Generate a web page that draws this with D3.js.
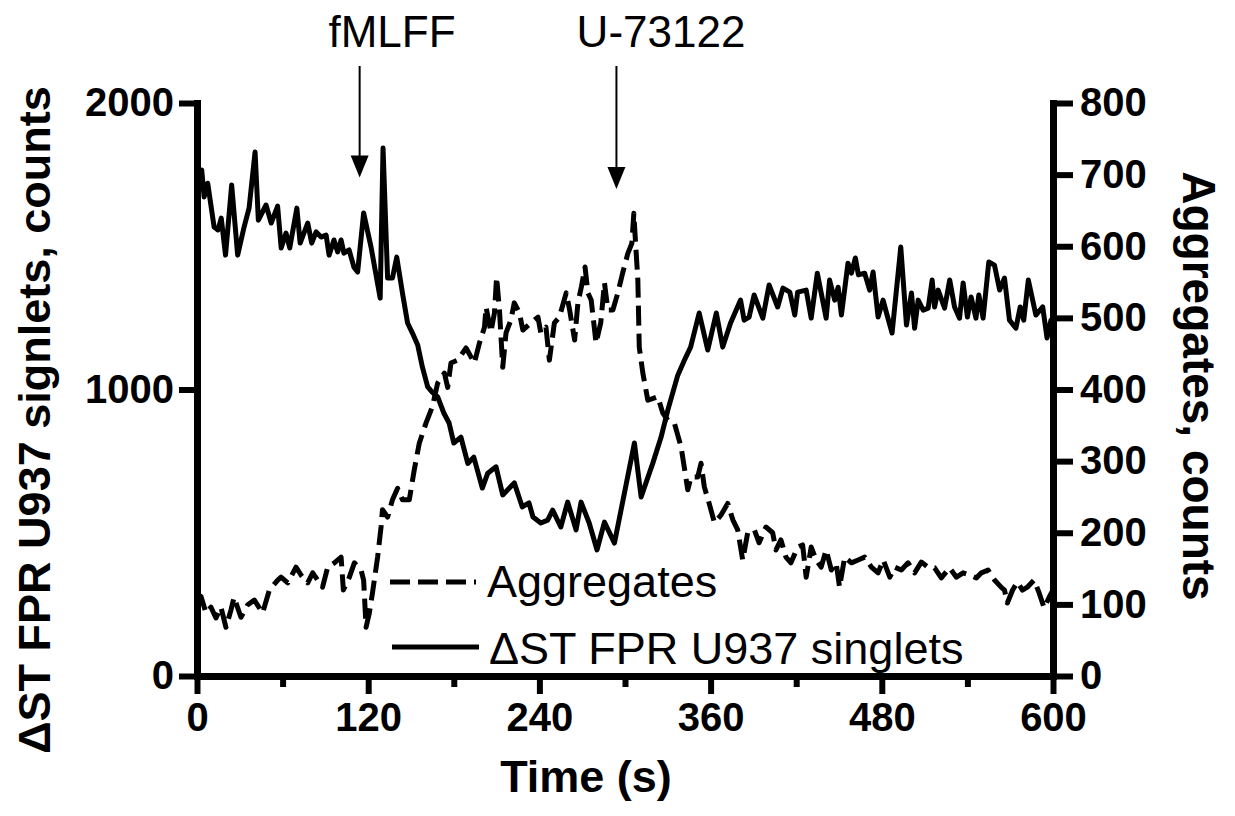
<!DOCTYPE html>
<html>
<head>
<meta charset="utf-8">
<script src="https://cdn.jsdelivr.net/npm/d3@7"></script>
<style>
  body { margin: 0; background: #fff; }
  svg { display: block; font-family: 'Liberation Sans', Arial, sans-serif; }
</style>
</head>
<body>
<svg id="chart" width="1235" height="816"></svg>
<script>
// singlets (left axis)
const singletTime = [0, 3.3, 5, 7.5, 12, 14.7, 17, 20, 24.3, 28.5, 33, 36.5, 40.7, 43, 48.4, 52, 56.5, 59, 62.4, 65,
  70, 72.3, 77.6, 80.4, 83.5, 87, 90.5, 92.6, 96, 98.6, 101, 103, 106.6, 110, 112.6, 116.8, 122, 128.4, 130.4, 133.6,
  137, 140, 144, 147.6, 151, 154.7, 158, 161.7, 165, 168.7, 173, 176.7, 180, 185, 189.8, 194, 200, 203.8, 209.6, 214.3,
  222.4, 228, 232.7, 235.5, 241, 245.8, 249.3, 255, 259.8, 265.7, 269.2, 274.9, 280.4, 285.6, 292.6, 306.6, 311.3, 319.5, 325.3, 330,
  337, 341.7, 346, 352, 358, 364, 368.5, 374, 381, 383.5, 387, 390.5, 396.6, 401, 407, 410.7, 415.5, 419,
  421, 427, 430.5, 434.8, 441, 443.4, 447, 449.4, 451.7, 456.3, 458.7, 461.5, 463.6, 468, 471.5, 473.9, 477.4, 480.9, 483.3, 487.2,
  493.3, 497.3, 500.8, 503, 505.5, 509, 512.5, 515.3, 517, 519.5, 524, 527.6, 531, 534.5, 537, 540, 542.6, 546, 548, 551,
  555, 559, 562.6, 566, 569.5, 574, 577, 579.5, 582.7, 588, 592.8, 595.8, 598.6, 600]
const singletCounts = [1750, 1766, 1672, 1720, 1567, 1557, 1598, 1469, 1714, 1469, 1567, 1633, 1829, 1591, 1644, 1581, 1640, 1494, 1546, 1494,
  1633, 1511, 1581, 1511, 1550, 1532, 1539, 1469, 1522, 1480, 1522, 1476, 1487, 1427, 1410, 1616, 1497, 1319, 1843, 1389,
  1389, 1462, 1337, 1232, 1197, 1155, 1078, 1009, 990, 974, 918, 883, 813, 834, 742, 764, 656, 708, 730, 632,
  674, 590, 604, 555, 534, 544, 579, 520, 607, 510, 607, 534, 440, 537, 464, 813, 625, 743, 834, 928,
  1050, 1103, 1148, 1267, 1138, 1267, 1148, 1232, 1312, 1242, 1253, 1330, 1249, 1365, 1288, 1354, 1340, 1260,
  1340, 1347, 1249, 1406, 1249, 1382, 1312, 1357, 1260, 1441, 1406, 1459, 1400, 1406, 1347, 1410, 1253, 1312, 1267, 1197,
  1497, 1225, 1337, 1214, 1312, 1277, 1284, 1382, 1288, 1347, 1284, 1382, 1288, 1249, 1372, 1253, 1323, 1249, 1330, 1249,
  1445, 1434, 1347, 1389, 1242, 1214, 1288, 1242, 1382, 1260, 1288, 1180, 1242, 1200]

// aggregates (right axis)
const aggTime = [0, 2.8, 6.3, 9.8, 13.3, 16.8, 20.3, 23.8, 26, 30.8, 35.4, 40.2, 46, 50.7, 56.6, 58.9, 63.6, 69.4, 72.9, 77.6,
  81.1, 88, 91.6, 96.3, 101, 102.6, 106.8, 110.3, 115, 116.8, 118.5, 120.8, 123, 126.6, 129, 130, 133.6, 137, 140.6, 144,
  148.8, 152.3, 155.8, 160.5, 165, 168.7, 173.4, 175.7, 178, 182.8, 188.6, 194.4, 198, 201.5, 202.6, 206, 208.5, 210, 212, 214.3,
  216.6, 220, 222.4, 226, 228.4, 234, 239, 241, 244.6, 247, 250.5, 254, 258.8, 261.2, 264.7, 267, 269.4, 272, 274, 276.3,
  279.7, 283, 285.6, 288, 291.5, 295, 298.4, 302, 304.8, 306.2, 307, 309, 310, 312.5, 316, 323, 326.5, 330, 334.6, 339.3,
  344, 346.3, 351, 353.3, 355.6, 359, 362.7, 367.4, 372, 375.6, 379, 382.5, 386, 390.7, 394, 398.8, 403.5, 405.8, 409.3, 412.8,
  416.3, 421, 424.5, 427, 430.5, 434, 437.5, 441, 444.6, 448, 450.4, 454, 458.7, 463.4, 468, 472.7, 477.4, 481, 485.6, 489,
  493.7, 498.4, 503, 507.7, 512.4, 517, 521.7, 527.5, 532.3, 537, 541.6, 546.3, 549.8, 554.5, 559, 563.6, 566, 568, 571.7, 575,
  578.6, 582, 586.7, 590.3, 593.8, 597.3, 600]
const aggCounts = [105, 111, 88, 96, 81, 96, 68, 92, 110, 82, 99, 106, 88, 120, 134, 138, 130, 152, 141, 130,
  144, 124, 152, 158, 166, 120, 138, 158, 148, 134, 68, 88, 116, 166, 208, 232, 222, 246, 262, 246,
  246, 288, 325, 353, 376, 409, 423, 403, 437, 441, 458, 437, 465, 487, 515, 480, 507, 557, 511, 431,
  479, 497, 521, 507, 483, 493, 501, 479, 487, 441, 493, 501, 535, 511, 469, 521, 543, 571, 535, 525,
  465, 493, 549, 511, 511, 535, 563, 590, 604, 646, 618, 553, 459, 423, 385, 390, 367, 357, 353, 320,
  260, 278, 278, 297, 264, 241, 214, 225, 241, 218, 204, 162, 200, 204, 186, 208, 200, 176, 190, 166,
  158, 180, 183, 138, 180, 162, 152, 176, 148, 158, 124, 166, 158, 162, 166, 152, 144, 162, 138, 152,
  148, 158, 144, 159, 152, 151, 137, 151, 138, 144, 141, 137, 144, 148, 134, 124, 120, 102, 120, 131,
  120, 124, 134, 116, 95, 110, 120]

const xMajor = [0, 120, 240, 360, 480, 600]
const xMinor = [60, 180, 300, 420, 540]
const leftTicks = [0, 1000, 2000]
const rightTicks = [0, 100, 200, 300, 400, 500, 600, 700, 800]

// treatments: time of addition, tip height on left axis
const treatments = ['fMLFF', 'U-73122']
const treatTime = [114, 294]
const treatTip = [1740, 1700]

const svg = d3.select('#chart')
const plotLeft = 197, plotRight = 1053, plotTop = 103, plotBottom = 676

const x = d3.scaleLinear().domain([0, 600]).range([plotLeft, plotRight])
const yL = d3.scaleLinear().domain([0, 2000]).range([plotBottom, plotTop])
const yR = d3.scaleLinear().domain([0, 800]).range([plotBottom, plotTop])
const fmt = d3.format('d')

function styleAxis (g, size) {
  g.select('.domain').attr('stroke-width', 7).attr('stroke-linecap', 'square')
  g.selectAll('.tick line').attr('stroke-width', 6)
  g.selectAll('.tick text')
    .attr('font-size', size)
    .attr('font-weight', 'bold')
    .attr('font-family', "'Liberation Sans', Arial, sans-serif")
    .attr('fill', '#000')
}

// minor x ticks
svg.append('g')
  .attr('transform', `translate(0,${plotBottom})`)
  .call(d3.axisBottom(x).tickValues(xMinor).tickSize(11).tickSizeOuter(0).tickFormat(''))
  .call(g => styleAxis(g, 40))

svg.append('g')
  .attr('transform', `translate(0,${plotBottom})`)
  .call(d3.axisBottom(x).tickValues(xMajor).tickSize(18).tickSizeOuter(0).tickPadding(9).tickFormat(fmt))
  .call(g => styleAxis(g, 40))

svg.append('g')
  .attr('transform', `translate(${plotLeft},0)`)
  .call(d3.axisLeft(yL).tickValues(leftTicks).tickSize(18).tickSizeOuter(0).tickPadding(5).tickFormat(fmt))
  .call(g => styleAxis(g, 40))

svg.append('g')
  .attr('transform', `translate(${plotRight},0)`)
  .call(d3.axisRight(yR).tickValues(rightTicks).tickSize(20).tickSizeOuter(0).tickPadding(7).tickFormat(fmt))
  .call(g => styleAxis(g, 40))

// series
const singlets = singletTime.map((t, i) => [t, singletCounts[i]])
const aggregates = aggTime.map((t, i) => [t, aggCounts[i]])

svg.append('path')
  .datum(aggregates)
  .attr('fill', 'none')
  .attr('stroke', '#000')
  .attr('stroke-width', 5)
  .attr('stroke-dasharray', '20,8')
  .attr('stroke-linejoin', 'round')
  .attr('d', d3.line().x(d => x(d[0])).y(d => yR(d[1])))

svg.append('path')
  .datum(singlets)
  .attr('fill', 'none')
  .attr('stroke', '#000')
  .attr('stroke-width', 5)
  .attr('stroke-linejoin', 'round')
  .attr('d', d3.line().x(d => x(d[0])).y(d => yL(d[1])))

// axis titles
svg.append('text')
  .attr('transform', 'translate(50,420) rotate(-90)')
  .attr('text-anchor', 'middle')
  .attr('font-size', 45)
  .attr('font-weight', 'bold')
  .text('ΔST FPR U937 signlets, counts')

svg.append('text')
  .attr('transform', 'translate(1183,386) rotate(90)')
  .attr('text-anchor', 'middle')
  .attr('font-size', 46)
  .attr('font-weight', 'bold')
  .text('Aggregates, counts')

svg.append('text')
  .attr('x', 586)
  .attr('y', 792)
  .attr('text-anchor', 'middle')
  .attr('font-size', 45)
  .attr('font-weight', 'bold')
  .text('Time (s)')

// arrows + labels
const labelX = [392, 661]
treatments.forEach((name, i) => {
  const ax = x(treatTime[i])
  const tip = yL(treatTip[i])
  svg.append('line')
    .attr('x1', ax).attr('x2', ax)
    .attr('y1', 66).attr('y2', tip - 18)
    .attr('stroke', '#000').attr('stroke-width', 2)
  svg.append('path')
    .attr('d', `M${ax - 9},${tip - 22}L${ax + 9},${tip - 22}L${ax},${tip}Z`)
    .attr('fill', '#000')
  svg.append('text')
    .attr('x', labelX[i])
    .attr('y', 47)
    .attr('text-anchor', 'middle')
    .attr('font-size', 44)
    .text(name)
})

// legend
const legend = svg.append('g')
legend.append('line')
  .attr('x1', 390).attr('x2', 476).attr('y1', 582).attr('y2', 582)
  .attr('stroke', '#000').attr('stroke-width', 5).attr('stroke-dasharray', '20,8')
legend.append('text')
  .attr('x', 487).attr('y', 597).attr('font-size', 45)
  .text('Aggregates')
legend.append('line')
  .attr('x1', 392).attr('x2', 479).attr('y1', 647).attr('y2', 647)
  .attr('stroke', '#000').attr('stroke-width', 5)
legend.append('text')
  .attr('x', 489).attr('y', 664).attr('font-size', 45)
  .text('ΔST FPR U937 singlets')
</script>
</body>
</html>
